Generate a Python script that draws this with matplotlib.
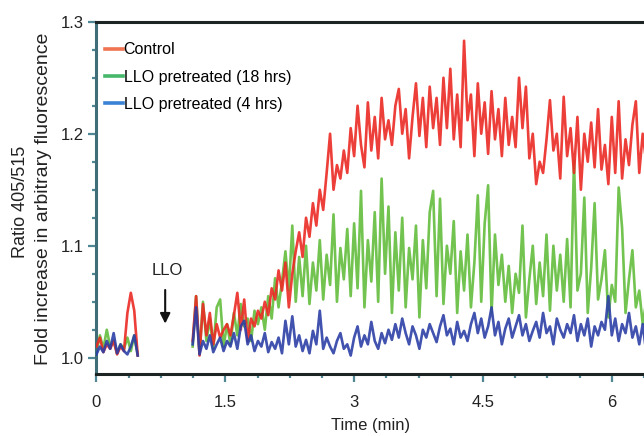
import numpy as np
import matplotlib
matplotlib.use("Agg")
import matplotlib.pyplot as plt
from matplotlib.lines import Line2D
from matplotlib.ticker import MultipleLocator

plt.rcParams['font.family'] = ['Liberation Sans', 'DejaVu Sans']

# sampling step of the traces (min) and start of the second recording
dt = 0.04
start_2 = 1.12

# first recording (before LLO), t = 0 .. 0.48
red_1 = [1.010, 1.018, 1.005, 1.012, 1.008, 1.015, 1.003, 1.010, 1.006, 1.040, 1.058, 1.042, 1.002]
green_1 = [1.005, 1.020, 1.008, 1.025, 1.010, 1.015, 1.004, 1.012, 1.008, 1.018, 1.006, 1.020, 1.003]
blue_1 = [1.003, 1.010, 1.005, 1.015, 1.008, 1.022, 1.004, 1.012, 1.006, 1.003, 1.010, 1.020, 1.002]

# second recording (after LLO), t = 1.12 .. 6.40
red_2 = [
    1.015, 1.055, 1.002, 1.048, 1.020, 1.040, 1.012, 1.030, 1.018, 1.025,
    1.030, 1.020, 1.038, 1.058, 1.025, 1.052, 1.015, 1.035, 1.028, 1.042,
    1.035, 1.050, 1.038, 1.062, 1.052, 1.078, 1.060, 1.085, 1.045, 1.075,
    1.095, 1.112, 1.090, 1.125, 1.108, 1.138, 1.118, 1.150, 1.132, 1.165,
    1.200, 1.150, 1.172, 1.160, 1.185, 1.165, 1.205, 1.180, 1.225, 1.190,
    1.170, 1.228, 1.185, 1.215, 1.178, 1.232, 1.195, 1.212, 1.190, 1.225,
    1.240, 1.200, 1.222, 1.178, 1.215, 1.245, 1.198, 1.232, 1.188, 1.242,
    1.205, 1.232, 1.190, 1.250, 1.205, 1.258, 1.195, 1.235, 1.188, 1.283,
    1.212, 1.235, 1.180, 1.245, 1.200, 1.228, 1.182, 1.238, 1.195, 1.222,
    1.180, 1.232, 1.190, 1.215, 1.188, 1.250, 1.205, 1.242, 1.178, 1.200,
    1.155, 1.175, 1.165, 1.195, 1.230, 1.185, 1.200, 1.160, 1.233, 1.180,
    1.205, 1.165, 1.215, 1.150, 1.200, 1.175, 1.210, 1.170, 1.222, 1.168,
    1.190, 1.155, 1.215, 1.165, 1.229, 1.160, 1.195, 1.172, 1.208, 1.229,
    1.165, 1.200, 1.175,
]
green_2 = [
    1.010, 1.055, 1.004, 1.050, 1.015, 1.035, 1.008, 1.045, 1.052, 1.010,
    1.030, 1.012, 1.040, 1.020, 1.048, 1.028, 1.035, 1.015, 1.042, 1.030,
    1.045, 1.025, 1.055, 1.035, 1.071, 1.045, 1.068, 1.095, 1.060, 1.118,
    1.050, 1.090, 1.055, 1.100, 1.048, 1.085, 1.060, 1.105, 1.052, 1.092,
    1.065, 1.128, 1.050, 1.098, 1.070, 1.115, 1.055, 1.120, 1.062, 1.149,
    1.045, 1.105, 1.068, 1.130, 1.050, 1.160, 1.075, 1.135, 1.040, 1.112,
    1.060, 1.125, 1.045, 1.098, 1.070, 1.118, 1.036, 1.105, 1.062, 1.130,
    1.149, 1.055, 1.142, 1.048, 1.100, 1.075, 1.122, 1.040, 1.095, 1.060,
    1.110, 1.045, 1.085, 1.145, 1.050, 1.120, 1.154, 1.040, 1.110, 1.065,
    1.092, 1.050, 1.082, 1.040, 1.075, 1.058, 1.118, 1.036, 1.070, 1.100,
    1.048, 1.085, 1.055, 1.110, 1.042, 1.100, 1.060, 1.092, 1.050, 1.106,
    1.045, 1.176, 1.060, 1.075, 1.143, 1.040, 1.080, 1.138, 1.052, 1.070,
    1.096, 1.036, 1.065, 1.050, 1.152, 1.116, 1.040, 1.070, 1.096, 1.045,
    1.060, 1.030, 1.050,
]
blue_2 = [
    1.012, 1.045, 1.003, 1.015, 1.008, 1.020, 1.005, 1.012, 1.018, 1.006,
    1.015, 1.010, 1.022, 1.008, 1.028, 1.033, 1.012, 1.020, 1.006, 1.015,
    1.010, 1.022, 1.005, 1.014, 1.008, 1.018, 1.004, 1.033, 1.012, 1.037,
    1.010, 1.020, 1.006, 1.016, 1.004, 1.024, 1.012, 1.042, 1.008, 1.018,
    1.010, 1.004, 1.015, 1.022, 1.008, 1.012, 1.002, 1.018, 1.028, 1.010,
    1.020, 1.012, 1.032, 1.015, 1.008, 1.022, 1.013, 1.025, 1.016, 1.030,
    1.018, 1.035, 1.022, 1.012, 1.028, 1.020, 1.008, 1.025, 1.018, 1.030,
    1.022, 1.014, 1.028, 1.038, 1.020, 1.026, 1.012, 1.032, 1.018, 1.024,
    1.015, 1.030, 1.040, 1.022, 1.035, 1.018, 1.028, 1.045, 1.020, 1.032,
    1.012, 1.026, 1.035, 1.018, 1.028, 1.038, 1.020, 1.030, 1.015, 1.024,
    1.032, 1.018, 1.040, 1.022, 1.028, 1.012, 1.035, 1.025, 1.018, 1.030,
    1.022, 1.038, 1.015, 1.030, 1.020, 1.035, 1.010, 1.028, 1.020, 1.032,
    1.025, 1.055, 1.020, 1.035, 1.015, 1.030, 1.022, 1.040, 1.018, 1.028,
    1.012, 1.030, 1.005,
]

labels = ['Control', 'LLO pretreated (18 hrs)', 'LLO pretreated (4 hrs)']
x_ticks = [0, 1.5, 3, 4.5, 6]
y_ticks = [1.0, 1.1, 1.2, 1.3]

red = '#ec2a24'
green = '#63bd3d'
blue = '#2c3fa6'
dark = '#1c2424'
teal = '#4f8794'
txt = '#222222'

fig = plt.figure(figsize=(6.44, 4.36), dpi=100)
ax = fig.add_axes([0.1498, 0.1422, 0.8502, 0.808])

for v1, v2, c, z in [(green_1, green_2, green, 2), (red_1, red_2, red, 3), (blue_1, blue_2, blue, 4)]:
    t1 = dt * np.arange(len(v1))
    t2 = start_2 + dt * np.arange(len(v2))
    ax.plot(t1, v1, color=c, lw=1.9, zorder=z, alpha=0.9)
    ax.plot(t2, v2, color=c, lw=1.9, zorder=z, alpha=0.9)

ax.set_xlim(0, 6.375)
ax.set_ylim(0.9855, 1.3)

ax.set_xticks(x_ticks)
ax.set_xticklabels(['0', '1.5', '3', '4.5', '6'])
ax.set_yticks(y_ticks)
ax.set_yticklabels(['1.0', '1.1', '1.2', '1.3'])
ax.xaxis.set_minor_locator(MultipleLocator(0.375))
ax.yaxis.set_minor_locator(MultipleLocator(0.025))
ax.tick_params(which='major', direction='out', length=6, width=1.6, color=teal,
               labelsize=12, labelcolor=txt, pad=3)
ax.tick_params(which='minor', direction='out', length=3, width=1.6, color=teal)
ax.tick_params(axis='x', which='major', pad=9)

ax.spines['right'].set_visible(False)
ax.spines['top'].set_color(dark)
ax.spines['bottom'].set_color(dark)
ax.spines['left'].set_color('#3f6e78')
for s in ['top', 'bottom', 'left']:
    ax.spines[s].set_linewidth(2.2)

ax.set_xlabel('Time (min)', fontsize=12, color=txt, labelpad=6)

# two-line y label, drawn as two texts
fig.text(21 / 644, 1 - 202 / 436, 'Ratio 405/515', rotation=90, fontsize=13,
         color=txt, ha='center', va='center')
fig.text(44 / 644, 1 - 199 / 436, 'Fold increase in arbitrary fluorescence',
         rotation=90, fontsize=14, color=txt, ha='center', va='center')

# LLO addition marker
ax.text(0.82, 1.078, 'LLO', fontsize=12, color=txt, ha='center', va='center')
ax.annotate('', xy=(0.80, 1.028), xytext=(0.80, 1.063),
            arrowprops=dict(arrowstyle='-|>', color='#111111', lw=1.5,
                            mutation_scale=15))

handles = [Line2D([], [], color='#f07452', lw=2.6),
           Line2D([], [], color='#45b86a', lw=2.6),
           Line2D([], [], color='#3a82d4', lw=2.6)]
ax.legend(handles, labels, loc='upper left', bbox_to_anchor=(0.0, 0.966),
          frameon=False, fontsize=11.5, handlelength=1.1, handletextpad=0.05,
          labelspacing=0.76, borderaxespad=0.15)

fig.savefig('out.png', dpi=100)
